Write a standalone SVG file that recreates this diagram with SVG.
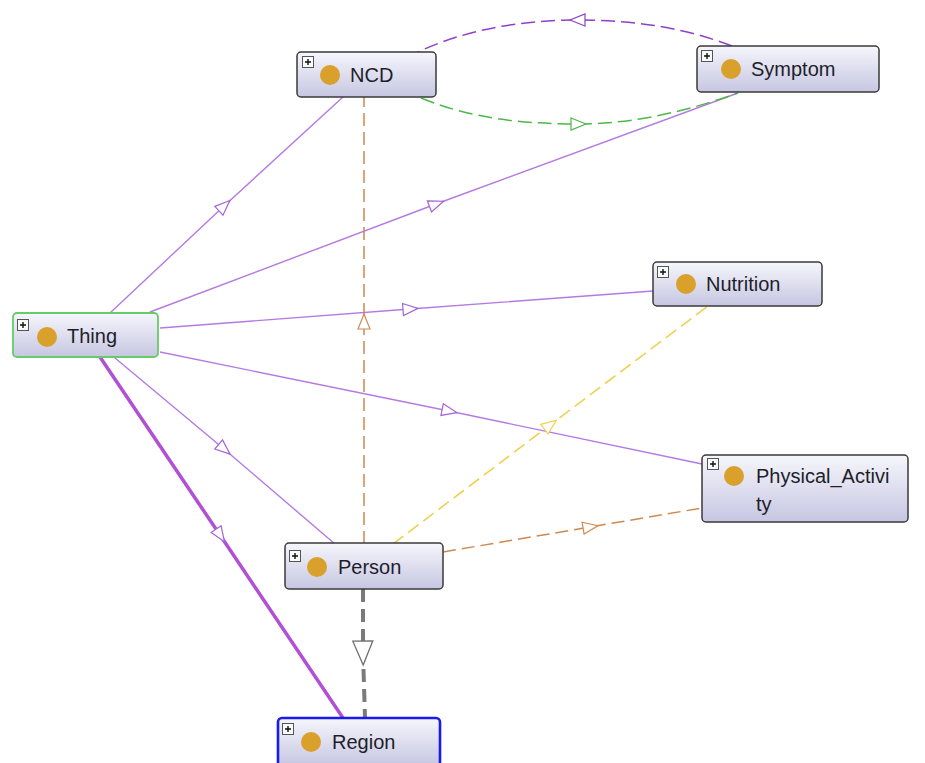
<svg xmlns="http://www.w3.org/2000/svg" width="925" height="763" viewBox="0 0 925 763">
  <defs>
    <linearGradient id="nodeFill" x1="0" y1="0" x2="0" y2="1">
      <stop offset="0" stop-color="#f6f6fc"/>
      <stop offset="1" stop-color="#c6c6e2"/>
    </linearGradient>
    <!-- open triangular arrowheads, placed at the middle vertex of each connector -->
    <marker id="arPurple" markerUnits="userSpaceOnUse" markerWidth="16" markerHeight="14" refX="7" refY="6" orient="auto" overflow="visible">
      <path d="M0,0 L15,6 L0,12 z" fill="#fff" stroke="#a464d6" stroke-width="1.2"/>
    </marker>
    <marker id="arPurpleDash" markerUnits="userSpaceOnUse" markerWidth="16" markerHeight="14" refX="7" refY="6" orient="auto" overflow="visible">
      <path d="M0,0 L15,6 L0,12 z" fill="#fff" stroke="#9040c8" stroke-width="1.2"/>
    </marker>
    <marker id="arGreen" markerUnits="userSpaceOnUse" markerWidth="16" markerHeight="14" refX="7" refY="6" orient="auto" overflow="visible">
      <path d="M0,0 L15,6 L0,12 z" fill="#fff" stroke="#4cb848" stroke-width="1.2"/>
    </marker>
    <marker id="arOrange" markerUnits="userSpaceOnUse" markerWidth="16" markerHeight="14" refX="7" refY="6" orient="auto" overflow="visible">
      <path d="M0,0 L15,6 L0,12 z" fill="#fff" stroke="#d08850" stroke-width="1.2"/>
    </marker>
    <marker id="arYellow" markerUnits="userSpaceOnUse" markerWidth="16" markerHeight="14" refX="7" refY="6" orient="auto" overflow="visible">
      <path d="M0,0 L15,6 L0,12 z" fill="#fff" stroke="#f0d050" stroke-width="1.2"/>
    </marker>
    <marker id="arGray" markerUnits="userSpaceOnUse" markerWidth="28" markerHeight="24" refX="12" refY="10" orient="auto" overflow="visible">
      <path d="M0,0 L24,10 L0,20 z" fill="#fff" stroke="#707070" stroke-width="1.3"/>
    </marker>
  </defs>
  <style>
    .edge { fill: none; }
    .sub { stroke: #b57ae2; stroke-width: 1.4; marker-mid: url(#arPurple); }
    .subThick { stroke: #b150d4; stroke-width: 3.5; marker-mid: url(#arPurple); }
    .dPurple { stroke: #9040c8; stroke-width: 1.5; stroke-dasharray: 14 6; marker-mid: url(#arPurpleDash); }
    .dGreen { stroke: #4cb848; stroke-width: 1.5; stroke-dasharray: 14 6; marker-mid: url(#arGreen); }
    .dOrange { stroke: #d08850; stroke-width: 1.5; stroke-dasharray: 13 6; marker-mid: url(#arOrange); }
    .dYellow { stroke: #f0d050; stroke-width: 1.6; stroke-dasharray: 13 6; marker-mid: url(#arYellow); }
    .dGray { stroke: #7a7a7a; stroke-width: 4; stroke-dasharray: 13 7; marker-mid: url(#arGray); }
    .box { fill: url(#nodeFill); stroke: #3a3a3a; stroke-width: 1.5; }
    .boxThing { fill: url(#nodeFill); stroke: #66cc66; stroke-width: 1.8; }
    .boxRegion { fill: url(#nodeFill); stroke: #1a1aee; stroke-width: 2.6; }
    .dot { fill: #d9a02c; }
    .exp { fill: #fafafa; stroke: #555; stroke-width: 1; }
    .plus { stroke: #111; stroke-width: 1.4; }
    .label { font-family: "Liberation Sans", Arial, sans-serif; font-size: 20px; fill: #1e1e2a; }
  </style>

  <g id="connectors">
    <!-- Thing subclass links -->
    <path class="edge sub" d="M110,313 L224,206 L343,97"/>
    <path class="edge sub" d="M150,312 L436,204 L738,93"/>
    <path class="edge sub" d="M160,328 L410,309 L653,291"/>
    <path class="edge sub" d="M160,352 L449,411 L702,464"/>
    <path class="edge sub" d="M115,358 L224,449 L335,544"/>
    <path class="edge subThick" d="M100,357 L220,535 L343,718"/>
    <!-- NCD / Symptom object properties -->
    <path class="edge dGreen" d="M421,98 C470,118 520,124 578,124 C636,124 690,110 738,93"/>
    <path class="edge dPurple" d="M732,46 C685,28 635,20 578,20 C520,20 465,30 418,52"/>
    <!-- Person object properties -->
    <path class="edge dOrange" d="M364,544 L364,322 L364,97"/>
    <path class="edge dYellow" d="M393,544 L550,425 L708,306"/>
    <path class="edge dOrange" d="M443,552 L590,527 L702,508"/>
    <path class="edge dGray" d="M363,589 L363,653 L365,718"/>
  </g>

  <g id="node-NCD">
    <rect class="box" x="297" y="52" width="139" height="45" rx="4"/>
    <rect class="exp" x="302.5" y="56.5" width="11" height="11"/>
    <path class="plus" d="M305,62 h6 M308,59 v6"/>
    <circle class="dot" cx="330" cy="75" r="10"/>
    <text class="label" x="350" y="82">NCD</text>
  </g>

  <g id="node-Symptom">
    <rect class="box" x="697" y="46" width="182" height="46" rx="4"/>
    <rect class="exp" x="701.5" y="50.5" width="11" height="11"/>
    <path class="plus" d="M704,56 h6 M707,53 v6"/>
    <circle class="dot" cx="731" cy="69" r="10"/>
    <text class="label" x="751" y="76">Symptom</text>
  </g>

  <g id="node-Thing">
    <rect class="boxThing" x="13" y="313" width="145" height="44" rx="4"/>
    <rect class="exp" x="17.5" y="319.5" width="11" height="11"/>
    <path class="plus" d="M20,325 h6 M23,322 v6"/>
    <circle class="dot" cx="47" cy="337" r="10"/>
    <text class="label" x="67" y="343">Thing</text>
  </g>

  <g id="node-Nutrition">
    <rect class="box" x="653" y="262" width="169" height="44" rx="4"/>
    <rect class="exp" x="657.5" y="266.5" width="11" height="11"/>
    <path class="plus" d="M660,272 h6 M663,269 v6"/>
    <circle class="dot" cx="686" cy="284" r="10"/>
    <text class="label" x="706" y="291">Nutrition</text>
  </g>

  <g id="node-Physical_Activity">
    <rect class="box" x="702" y="455" width="206" height="67" rx="4"/>
    <rect class="exp" x="707.5" y="458.5" width="11" height="11"/>
    <path class="plus" d="M710,464 h6 M713,461 v6"/>
    <circle class="dot" cx="734" cy="476" r="10"/>
    <text class="label" x="756" y="483">Physical_Activi</text>
    <text class="label" x="756" y="511">ty</text>
  </g>

  <g id="node-Person">
    <rect class="box" x="285" y="543" width="158" height="46" rx="4"/>
    <rect class="exp" x="289.5" y="550.5" width="11" height="11"/>
    <path class="plus" d="M292,556 h6 M295,553 v6"/>
    <circle class="dot" cx="317" cy="567" r="10"/>
    <text class="label" x="338" y="574">Person</text>
  </g>

  <g id="node-Region">
    <rect class="boxRegion" x="278" y="718" width="162" height="48" rx="4"/>
    <rect class="exp" x="282.5" y="723.5" width="11" height="11"/>
    <path class="plus" d="M285,729 h6 M288,726 v6"/>
    <circle class="dot" cx="311" cy="742" r="10"/>
    <text class="label" x="332" y="749">Region</text>
  </g>
</svg>
